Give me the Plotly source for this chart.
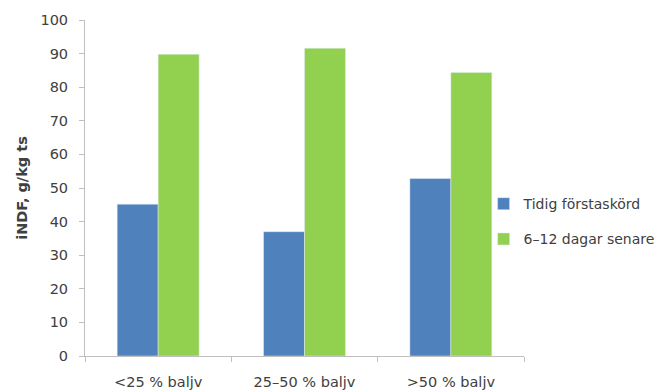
import plotly.graph_objects as go

categories = ["<25 % baljv", "25–50 % baljv", ">50 % baljv"]
series_names = ["Tidig förstaskörd", "6–12 dagar senare"]
tidig = [45.2, 37.0, 52.8]
senare = [89.8, 91.6, 84.4]
y_ticks = [0, 10, 20, 30, 40, 50, 60, 70, 80, 90, 100]

fig = go.Figure()
fig.add_trace(go.Bar(x=categories, y=tidig, name=series_names[0], marker_color="#4F81BD",
                     legendgroup="a"))
fig.add_trace(go.Bar(x=categories, y=senare, name=series_names[1], marker_color="#92D050",
                     legendgroup="b"))

font_fam = "'DejaVu Sans', sans-serif"
fs = 14.5
fig.update_layout(
    width=667, height=392,
    margin=dict(l=85, r=143, t=20, b=36, autoexpand=False),
    paper_bgcolor="white", plot_bgcolor="white",
    barmode="group", bargap=0.44, bargroupgap=0,
    font=dict(family=font_fam, size=fs, color="#404040"),
    showlegend=True,
    legend=dict(x=0.908, y=0.40, xanchor="left", yanchor="middle",
                font=dict(size=14, color="#404040"), tracegroupgap=14,
                traceorder="grouped",
                itemwidth=30, bgcolor="rgba(0,0,0,0)"),
    xaxis=dict(showline=True, linecolor="#BFBFBF", linewidth=1, automargin=False,
               ticks="outside", tickson="boundaries", ticklen=5, tickcolor="#BFBFBF",
               ticklabelstandoff=13,
               tickfont=dict(size=fs, color="#404040"), showgrid=False),
    yaxis=dict(range=[0, 100], tickvals=y_ticks, showline=True, linecolor="#BFBFBF",
               linewidth=1, ticks="outside", ticklen=5, tickcolor="#BFBFBF",
               ticklabelstandoff=8, automargin=False,
               showgrid=False, zeroline=False,
               tickfont=dict(size=fs, color="#404040"),
               title=dict(text="<b>iNDF, g/kg ts</b>", font=dict(size=fs, color="#404040"), standoff=9)),
)
fig.write_html("out.html")
